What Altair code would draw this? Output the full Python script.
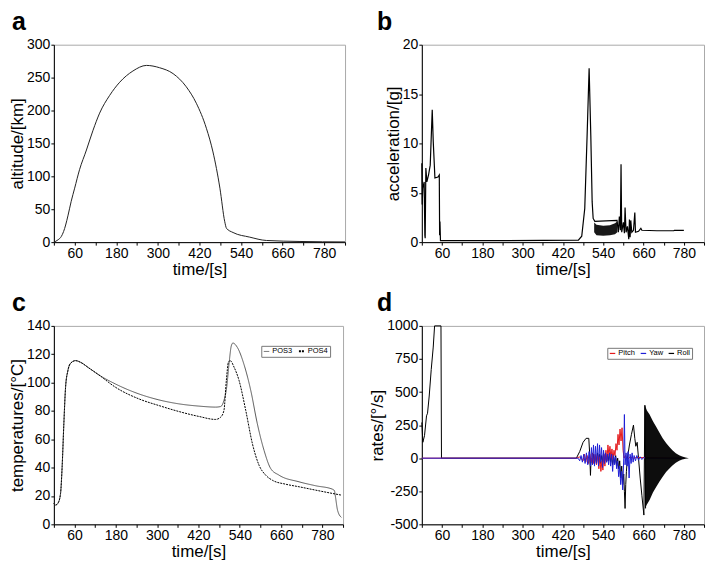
import altair as alt
import pandas as pd

FONT = "Liberation Sans"

# ---------------- panel a: altitude ----------------
alt_t = [0, 12, 21.5, 28, 34, 41, 50, 60, 74, 94, 113, 132, 161, 190, 228, 267, 305, 344, 382, 411, 440, 459, 479, 493, 498, 517, 565, 613, 710, 840]
alt_km = [0, 3.5, 8.6, 16, 26, 41, 62, 82, 110, 140, 170, 196, 223, 243, 260, 268.5, 265, 256, 236, 211, 173, 137, 82, 31, 21, 14.6, 7.6, 2.5, 1, 0.3]

# ---------------- panel b: acceleration ----------------
acc_t = [0, 1, 3, 7, 9, 10, 12, 15, 20, 25, 31, 34, 39, 48, 52, 53, 54, 55.5, 60, 200, 466, 476, 485, 492, 498, 503, 507, 510, 515,
         581, 585, 588, 591, 593, 595, 600, 603, 605, 608, 612, 616, 618, 620, 622, 625, 630, 634, 636, 645, 652, 655, 700, 750, 752, 780]
acc_g = [8.0, 3.8, 5.5, 6.1, 0.7, 0.4, 7.5, 6.1, 6.8, 7.8, 13.4, 10.2, 6.5, 6.6, 6.8, 0.7, 2.1, 0.15, 0.15, 0.15, 0.2, 0.6, 3.4, 10.8, 17.6, 10.8, 4.1, 2.4, 2.1,
         2.2, 1.0, 2.6, 1.2, 7.9, 1.0, 2.0, 0.9, 3.5, 1.0, 1.6, 0.3, 2.3, 0.5, 2.2, 1.0, 1.2, 3.0, 1.0, 1.1, 1.4, 1.2, 1.15, 1.15, 1.2, 1.2]
band_t = [513, 520, 540, 560, 575, 582]
band_lo = [1.0, 0.7, 0.65, 0.7, 0.8, 1.0]
band_hi = [2.0, 1.75, 1.65, 1.7, 1.9, 2.1]

# ---------------- panel c: temperatures ----------------
pos3_t = [0, 5, 12.6, 19.4, 24, 29, 34, 40.7, 48.4, 63, 77.5, 101.7, 130.8, 179, 247, 305, 363, 421.5, 470, 484.5, 494, 502, 508.7, 515.5, 520, 533, 552, 572, 591, 610.5, 630, 654, 712, 760.7, 809, 815, 818, 824, 835]
pos3_v = [14.8, 13.6, 15.2, 21.8, 40.5, 71, 96.7, 108.4, 113.6, 115.5, 114.3, 110.3, 105.4, 99, 92, 87.8, 85, 83.4, 82.7, 83.1, 87.4, 96.7, 113, 126, 127.9, 124.8, 113, 94.4, 71, 52.2, 39.3, 34.7, 30, 27.2, 24.8, 23.7, 19.4, 10, 4.9]
pos4_t = [0, 5, 12.6, 19.4, 24, 29, 34, 40.7, 48.4, 63, 77.5, 101.7, 130.8, 179, 247, 305, 363, 421.5, 470, 484.5, 494, 501, 507, 512, 523.6, 538, 557.4, 576.7, 596, 615.3, 634.7, 673.5, 712, 760.7, 809, 835]
pos4_v = [14.8, 13.6, 15.2, 21.8, 40.5, 71, 96.7, 108.4, 113.6, 115.5, 114.3, 110.3, 105.4, 96.7, 88.5, 83.8, 79.6, 76.1, 74, 75.6, 80.3, 101.4, 114.3, 115.5, 110.8, 101.4, 80.3, 56.9, 41.7, 34.7, 31.1, 28.3, 26.5, 24.1, 21.8, 20.6]

# ---------------- panel d: rates ----------------
roll_t = [0, 3, 8, 14, 17, 22, 28, 34, 38, 57, 58.5, 460, 470, 480, 489, 497, 500, 502, 504,
          508, 511, 514, 517, 520, 523, 526, 529, 532, 535, 538, 541, 544, 547, 550, 553, 556, 559, 562, 565, 568, 571, 574, 577, 580, 583, 586, 589, 592, 595, 598, 601, 603, 605, 607, 609,
          612, 618, 624, 630, 634, 637, 641, 645, 650, 655, 661, 664, 666]
roll_v = [270, 120, 170, 320, 340, 470, 670, 840, 1000, 1000, 0, 0, 50, 120, 150, 150, 20, -130, 0,
          -40, 30, -50, 20, -30, 40, -20, 30, -40, 20, -30, 40, -20, 10, -30, 30, -20, 40, -30, 20, -50, 10, -40, 20, -60, 0, -80, -20, -150, -60, -200, -120, -250, -380, -200, -100,
          0, 100, 180, 250, 150, 90, 120, 0, -150, -280, -430, 400, -380]
pitch_t = [0, 460, 470, 480, 484, 488, 492, 496, 500, 504, 508, 512, 516, 520, 524, 527, 530, 533, 536, 539, 542, 545, 548, 551, 554, 557, 560, 563, 566, 569, 572, 575, 578, 581, 584, 587, 590, 593, 596, 599, 602, 606, 612, 620, 630, 640, 780]
pitch_v = [0, 0, 10, -20, 30, -30, 20, -40, 30, -30, 40, -40, 30, -50, 20, -80, 10, -100, -20, -90, 30, -60, 60, -20, 100, 20, 90, 0, 70, -10, 60, 20, 110, 60, 180, 100, 220, 130, 230, 60, 0, 20, -10, 10, 0, 5, 0]
yaw_t = [0, 465, 470, 474, 478, 482, 486, 490, 494, 498, 502, 505, 508, 511, 514, 517, 520, 523, 526, 529, 532, 535, 538, 541, 544, 547, 550, 553, 556, 559, 562, 565, 568, 571, 574, 577, 580, 583, 586, 589, 592, 595, 598, 601, 603, 605, 608, 611, 614, 617, 620, 623, 626, 629, 632, 636, 640, 645, 650, 655, 660, 665, 780]
yaw_v = [0, 0, -20, 20, -30, 30, -40, 40, -50, 50, -60, 80, -50, 100, -60, 90, -40, 110, -60, 100, -30, 80, -70, 60, -40, 40, -30, 30, -50, 40, -60, 30, -100, 20, -50, 10, -80, -20, -140, -60, -200, -100, -240, 0, 330, -50, 40, -60, 50, -150, 30, -40, 40, -30, 20, -20, 20, -15, 10, -10, 5, 0, 0]
env_t = [664, 670, 678, 688, 698, 708, 717, 727, 737, 746, 756, 766, 775, 785, 795]
env_hi = [400, 360, 330, 280, 236, 190, 150, 115, 85, 60, 38, 22, 12, 5, 0]
env_lo = [-380, -350, -316, -260, -216, -175, -140, -105, -78, -55, -35, -20, -10, -4, 0]

# ---------------- tables ----------------
df_a = pd.DataFrame({"t": alt_t, "v": alt_km})
df_b = pd.DataFrame({"t": acc_t, "v": acc_g})
df_band = pd.DataFrame({"t": band_t, "v": band_lo, "hi": band_hi})
df_c = pd.concat([
    pd.DataFrame({"t": pos3_t, "v": pos3_v, "series": "POS3"}),
    pd.DataFrame({"t": pos4_t, "v": pos4_v, "series": "POS4"}),
])
df_d = pd.concat([
    pd.DataFrame({"t": roll_t, "v": roll_v, "series": "Roll"}),
    pd.DataFrame({"t": pitch_t, "v": pitch_v, "series": "Pitch"}),
    pd.DataFrame({"t": yaw_t, "v": yaw_v, "series": "Yaw"}),
])
df_env = pd.DataFrame({"t": env_t, "v": env_lo, "hi": env_hi})

X_TICKS = list(range(0, 841, 60))


def xenc():
    return alt.X("t:Q", scale=alt.Scale(domain=[0, 840], nice=False, zero=False),
                 axis=alt.Axis(values=X_TICKS, title="time/[s]", labelOverlap=False,
                               labelExpr="datum.value % 120 == 60 ? datum.value + '' : ''"))


def yenc(title, domain, step):
    return alt.Y("v:Q", scale=alt.Scale(domain=domain, nice=False, zero=False),
                 axis=alt.Axis(values=list(range(domain[0], domain[1] + 1, step)), title=title,
                               labelExpr="datum.value + ''", labelOverlap=False))


def title(letter, dx):
    return alt.TitleParams(letter, anchor="start", frame="group", dx=dx, fontSize=25, fontWeight="bold",
                           font=FONT, baseline="alphabetic", offset=-17, color="black")


def legend(x, y):
    return alt.Legend(title=None, orient="none", legendX=x, legendY=y, direction="horizontal",
                      strokeColor="#777", padding=1.5, labelFontSize=7.5, labelFont=FONT,
                      symbolType="stroke", symbolSize=30, symbolStrokeWidth=1.2,
                      columnPadding=2, labelOffset=2, fillColor="white")


# panel a
pa = alt.Chart(df_a).mark_line(color="#222", strokeWidth=1, interpolate="monotone").encode(
    x=xenc(), y=yenc("altitude/[km]", [0, 300], 50)
).properties(width=292, height=198, title=title("a", -42))

# panel b
yb = yenc("acceleration/[g]", [0, 20], 5)
pb_band = alt.Chart(df_band).mark_area(color="black", opacity=0.9).encode(x=xenc(), y=yb, y2="hi:Q")
pb_line = alt.Chart(df_b).mark_line(color="black", strokeWidth=1.2).encode(x=xenc(), y=yb)
pb = alt.layer(pb_line, pb_band).properties(width=283, height=198, title=title("b", -45))

# panel c
pc = alt.Chart(df_c).mark_line(strokeWidth=1, interpolate="monotone").encode(
    x=xenc(), y=yenc("temperatures/[°C]", [0, 140], 20),
    color=alt.Color("series:N", scale=alt.Scale(domain=["POS3", "POS4"], range=["#555", "#000"]),
                    legend=legend(208, 20)),
    strokeDash=alt.StrokeDash("series:N", scale=alt.Scale(domain=["POS3", "POS4"], range=[[1, 0], [2, 1]]),
                              legend=legend(208, 20)),
    strokeWidth=alt.StrokeWidth("series:N", scale=alt.Scale(domain=["POS3", "POS4"], range=[0.9, 2.0]), legend=None),
).properties(width=290, height=199, title=title("c", -42))

# panel d
yd = yenc("rates/[°/s]", [-500, 1000], 250)
dcolor = alt.Color("series:N", scale=alt.Scale(domain=["Pitch", "Yaw", "Roll"], range=["#e41a1c", "#1f1fd6", "#000000"]),
                   legend=legend(186, 22))
base_d = alt.Chart(df_d).encode(x=xenc(), y=yd, color=dcolor)
pd_roll = base_d.transform_filter(alt.datum.series == "Roll").mark_line(strokeWidth=1)
pd_pitch = base_d.transform_filter(alt.datum.series == "Pitch").mark_line(strokeWidth=1)
pd_yaw = base_d.transform_filter(alt.datum.series == "Yaw").mark_line(strokeWidth=1)
pd_env = alt.Chart(df_env).mark_area(color="black", opacity=0.95).encode(x=xenc(), y=yd, y2="hi:Q")
pdd = alt.layer(pd_roll, pd_pitch, pd_yaw, pd_env).properties(width=283, height=199, title=title("d", -45))

chart = alt.ConcatChart(concat=[pa, pb, pc, pdd], columns=2, bounds="flush",
                        spacing={"row": 84, "column": 77}).resolve_scale(
    color="independent", strokeDash="independent", strokeWidth="independent",
    x="independent", y="independent"
).properties(
    padding={"left": 0, "top": 0, "right": 5, "bottom": 5}, background="white"
).configure_axis(
    labelFont=FONT, titleFont=FONT, labelFontSize=14, titleFontSize=17, titleFontWeight="normal",
    labelColor="black", titleColor="black", domainColor="black", tickColor="black",
    tickSize=3, labelPadding=1, grid=False
).configure_axisX(titlePadding=1).configure_axisY(titlePadding=0).configure_view(stroke="#aaaaaa", strokeWidth=1)

chart.save("out.html", embed_options={"renderer": "svg", "actions": False})
